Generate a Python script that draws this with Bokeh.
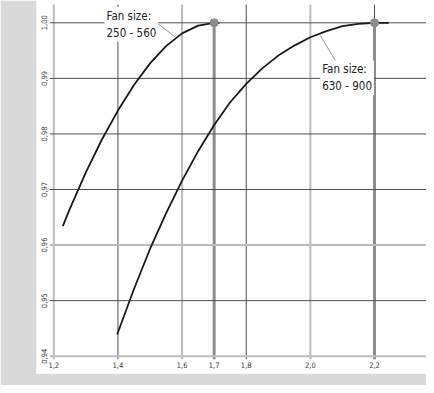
import math
from bokeh.plotting import figure
from bokeh.models import Label, ColumnDataSource
from bokeh.core.properties import value
from bokeh.embed import file_html
from bokeh.resources import INLINE

# ---- data ----
x_ticks = [1.2, 1.4, 1.6, 1.7, 1.8, 2.0, 2.2]
x_tick_labels = ["1,2", "1,4", "1,6", "1,7", "1,8", "2,0", "2,2"]
y_ticks = [0.94, 0.95, 0.96, 0.97, 0.98, 0.99, 1.00]
y_tick_labels = ["0,94", "0,95", "0,96", "0,97", "0,98", "0,99", "1,00"]

# fan size 250 - 560
small_x = [1.2281, 1.25, 1.30, 1.35, 1.40, 1.45, 1.50, 1.55, 1.60, 1.65, 1.70, 1.7167]
small_y = [0.9634, 0.9665, 0.9731, 0.9790, 0.9842, 0.9888, 0.9927, 0.9958, 0.9981,
           0.9995, 1.0000, 1.0000]

# fan size 630 - 900
large_x = [1.3976, 1.45, 1.50, 1.55, 1.60, 1.65, 1.70, 1.75, 1.80, 1.85, 1.90,
           1.95, 2.00, 2.05, 2.10, 2.15, 2.20, 2.2446]
large_y = [0.9439, 0.9521, 0.9593, 0.9657, 0.9716, 0.9769, 0.9816, 0.9857, 0.9890,
           0.9918, 0.9941, 0.9959, 0.9974, 0.9985, 0.9994, 0.9998, 1.0000, 1.0000]

opt_x = [1.7, 2.2]
opt_y = [1.0, 1.0]

series_labels = ["Fan size:\n250 - 560", "Fan size:\n630 - 900"]
x_title = "hydraulic diameter d\u2095/D"
y_title = "Correction factor for air flow"

FONT = "DejaVu Sans Condensed"
DARK = "#505050"
LIGHT = "#bdbdbd"
MID = "#8c8c8c"

PX_X = 320.7   # pixels per x unit
PX_Y = 5557.0  # pixels per y unit
X0 = 1.2 - 17.3 / PX_X
X1 = X0 + 390 / PX_X
Y1 = 1.0 + 22.3 / PX_Y
Y0 = Y1 - 373 / PX_Y

p = figure(width=426, height=385, x_range=(X0, X1), y_range=(Y0, Y1),
           output_backend="svg", toolbar_location=None,
           min_border_left=36, min_border_right=0, min_border_top=0, min_border_bottom=12,
           border_fill_color="#dadada", background_fill_color="white",
           outline_line_color=None)
p.xaxis.visible = False
p.yaxis.visible = False
p.grid.visible = False

# ---- grid lines ----
v_style = {1.2: (LIGHT, 2), 1.4: (DARK, 1), 1.6: (LIGHT, 2), 1.7: (MID, 3),
           1.8: (DARK, 1), 2.0: (LIGHT, 2), 2.2: (MID, 3)}
h_style = {0.94: (LIGHT, 2), 0.96: (LIGHT, 2)}

y_top = 1.0 + 18.3 / PX_Y
y_bot = 0.94 - 3 / PX_Y
x_left = 1.2 - 4 / PX_X

vx, vy0, vy1, vc, vw = [], [], [], [], []
for t in x_ticks:
    c, w = v_style[t]
    top = y_top
    if t in opt_x:
        top = opt_y[opt_x.index(t)]
        if t == 2.2:
            vx.append(t); vy0.append(top); vy1.append(y_top); vc.append(DARK); vw.append(1)
    vx.append(t); vy0.append(y_bot); vy1.append(top); vc.append(c); vw.append(w)
p.segment(x0="x", y0="y0", x1="x", y1="y1", line_color="c", line_width="w",
          source=ColumnDataSource(dict(x=vx, y0=vy0, y1=vy1, c=vc, w=vw)))

hy, hc, hw = [], [], []
for t in y_ticks:
    c, w = h_style.get(t, (DARK, 1))
    hy.append(t); hc.append(c); hw.append(w)
p.segment(x0=x_left, y0="y", x1=X1, y1="y", line_color="c", line_width="w",
          source=ColumnDataSource(dict(y=hy, c=hc, w=hw)))

# ---- curves ----
p.line(small_x, small_y, line_color="#1a1a1a", line_width=1.8, line_join="round")
p.line(large_x, large_y, line_color="#1a1a1a", line_width=1.8, line_join="round")
p.scatter(opt_x, opt_y, size=8, fill_color=MID, line_color=MID)

# ---- tick labels ----
p.text(x=[1.2] * len(y_ticks), y=y_ticks, text=y_tick_labels, angle=math.pi / 2,
       x_offset=-9.5, text_align="center", text_baseline="middle",
       text_font=value(FONT), text_font_size="7.5px", text_color="#3a3a3a")
p.text(x=x_ticks, y=[0.94] * len(x_ticks), text=x_tick_labels,
       y_offset=8.5, text_align="center", text_baseline="middle",
       text_font=value(FONT), text_font_size="7.5px", text_color="#3a3a3a")

# ---- leader lines ----
p.segment(x0=[1.5202, 2.0316], y0=[1.00005, 0.99766], x1=[1.5817, 2.0837], y1=[0.9973, 0.99268],
          line_color="#777777", line_width=0.8)

# ---- series labels (white boxes cover the grid) ----
for (lx, ly), txt in zip([(1.3581, 1.00284), (2.0307, 0.99322)], series_labels):
    p.add_layout(Label(x=lx, y=ly, text=txt, text_font=FONT, text_font_size="11.5px",
                       text_color="#222222", text_align="left", text_baseline="top",
                       text_line_height=1.2,
                       background_fill_color="white", padding=2))

# ---- axis titles ----
p.add_layout(Label(x=1.2 - (53.3 - 20.7) / PX_X, y=0.95057, text=y_title, angle=math.pi / 2,
                   text_font=FONT, text_font_size="10px", text_color="#222222",
                   text_align="center", text_baseline="middle"))
p.add_layout(Label(x=1.2, y=0.94 - (381 - 357.7) / PX_Y, text=x_title,
                   text_font=FONT, text_font_size="10px", text_color="#222222",
                   text_align="left", text_baseline="middle"))

open("out.html", "w").write(file_html(p, INLINE))
